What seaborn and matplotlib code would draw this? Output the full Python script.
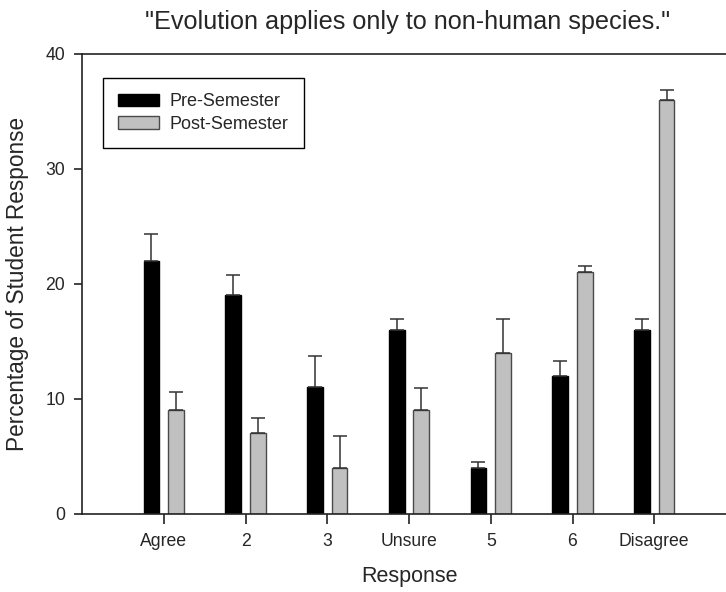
import matplotlib
matplotlib.use("Agg")
import matplotlib.pyplot as plt
import numpy as np
import pandas as pd
import seaborn as sns

# values
responses = ["Agree", "2", "3", "Unsure", "5", "6", "Disagree"]
pre_semester = [22, 19, 11, 16, 4, 12, 16]
pre_err = [2.3, 1.7, 2.7, 0.9, 0.5, 1.3, 0.9]
post_semester = [9, 7, 4, 9, 14, 21, 36]
post_err = [1.6, 1.3, 2.75, 1.9, 2.9, 0.5, 0.8]
groups = ["Pre-Semester", "Post-Semester"]

df = pd.DataFrame({
    "Response": responses * 2,
    "Percent": pre_semester + post_semester,
    "Group": [groups[0]] * len(responses) + [groups[1]] * len(responses),
})
errors = {groups[0]: pre_err, groups[1]: post_err}

sns.set_style("ticks")
plt.rcParams["font.family"] = ["Liberation Sans", "DejaVu Sans"]

fig = plt.figure(figsize=(7.26, 5.92), dpi=100)
ax = fig.add_axes([82 / 726, 1 - 513.5 / 592, 654 / 726, 460 / 592])

sns.barplot(
    data=df, x="Response", y="Percent", hue="Group", order=responses,
    hue_order=groups, palette=["black", "#c0c0c0"], width=0.6, gap=0.35,
    errorbar=None, saturation=1, linewidth=1, ax=ax,
)

edge_colors = ["black", "#4a4a4a"]
for container, group, ec in zip(ax.containers, groups, edge_colors):
    xs = [bar.get_x() + bar.get_width() / 2 for bar in container]
    hs = [bar.get_height() for bar in container]
    for bar in container:
        bar.set_edgecolor(ec)
    err = errors[group]
    ax.errorbar(xs, hs, yerr=[np.zeros(len(err)), err], fmt="none",
                ecolor="#333333", elinewidth=1.1, capsize=5, capthick=1.1, zorder=1)

ax.set_xlim(-1, 7)
ax.set_ylim(0, 40)
ax.set_yticks([0, 10, 20, 30, 40])

for side in ["left", "bottom", "top"]:
    ax.spines[side].set_visible(True)
    ax.spines[side].set_linewidth(1.2)
    ax.spines[side].set_color("#222222")
ax.spines["right"].set_visible(False)

ax.tick_params(axis="both", direction="out", length=6, width=1.2, labelsize=12.7,
               color="#222222", pad=6)
ax.tick_params(axis="x", bottom=True, top=False, length=7, pad=7)
ax.tick_params(axis="y", left=True, right=False)

ax.set_xlabel("Response", fontsize=15.5, va="center")
ax.set_ylabel("Percentage of Student Response", fontsize=16.3, va="center")
ax.xaxis.set_label_coords(0.5015, -0.138)
ax.yaxis.set_label_coords(-0.098, 0.498)

fig.text(408 / 726, 1 - 22 / 592, '"Evolution applies only to non-human species."',
         ha="center", va="center", fontsize=18.2)

leg = ax.legend(loc="upper left", bbox_to_anchor=(0.032, 0.9467), borderaxespad=0,
                fontsize=13, frameon=True, fancybox=False, framealpha=1,
                handlelength=2.28, handleheight=0.72, handletextpad=0.55,
                borderpad=0.85, labelspacing=0.3, title=None)
leg.get_frame().set_edgecolor("black")
leg.get_frame().set_linewidth(1)
for patch, ec in zip(leg.get_patches(), edge_colors):
    patch.set_edgecolor(ec)

fig.savefig("out.png", dpi=100)
